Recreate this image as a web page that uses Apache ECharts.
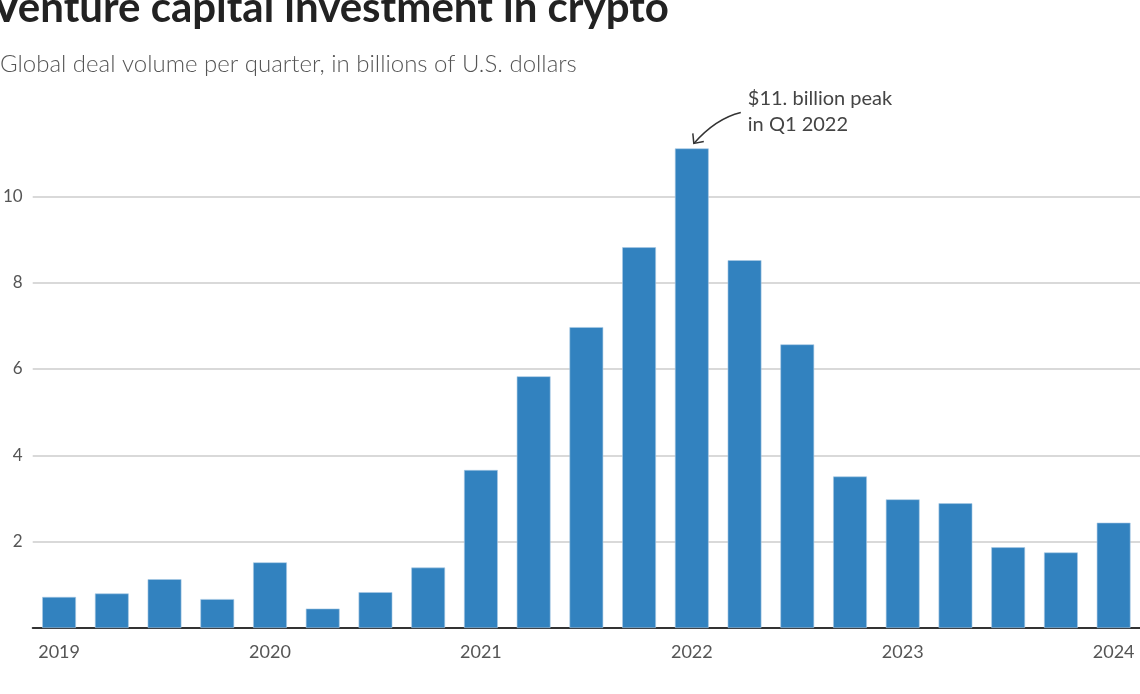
<!DOCTYPE html>
<html>
<head>
<meta charset="utf-8">
<script src="https://cdn.jsdelivr.net/npm/echarts@6/dist/echarts.min.js"></script>
<style>
  html, body { margin: 0; padding: 0; background: #fff; }
  #chart { width: 1140px; height: 694px; }
</style>
</head>
<body>
<div id="chart"></div>
<script>
// ---- data ----
const titleText = "Venture capital investment in crypto";
const subtitleText = "Global deal volume per quarter, in billions of U.S. dollars";
const quarters = [
  "Q1 2019","Q2 2019","Q3 2019","Q4 2019",
  "Q1 2020","Q2 2020","Q3 2020","Q4 2020",
  "Q1 2021","Q2 2021","Q3 2021","Q4 2021",
  "Q1 2022","Q2 2022","Q3 2022","Q4 2022",
  "Q1 2023","Q2 2023","Q3 2023","Q4 2023",
  "Q1 2024"
];
const dealVolume = [
  0.72, 0.80, 1.13, 0.67,
  1.52, 0.45, 0.83, 1.40,
  3.66, 5.83, 6.97, 8.82,
  11.11, 8.52, 6.57, 3.51,
  2.98, 2.89, 1.87, 1.75,
  2.44
];
const yTicks = [2, 4, 6, 8, 10];
const annotationLines = ["$11. billion peak", "in Q1 2022"];
const annotationIndex = 12;

const FONT = "Lato, 'Noto Sans', sans-serif";
const chart = echarts.init(document.getElementById('chart'), null, { renderer: 'canvas' });

chart.setOption({
  animation: false,
  backgroundColor: '#fff',
  title: [
    {
      text: titleText,
      left: -8, top: -13, padding: 0,
      textStyle: { fontFamily: FONT, fontSize: 42, fontWeight: 'bold', color: '#222' }
    },
    {
      text: subtitleText,
      left: 0, top: 52, padding: 0,
      textStyle: { fontFamily: FONT, fontSize: 24, fontWeight: 300, color: '#555' }
    }
  ],
  grid: { left: 30, right: -1, top: 110, bottom: 66, containLabel: false },
  xAxis: {
    type: 'category',
    data: quarters,
    axisTick: { show: false },
    axisLine: { show: true, lineStyle: { color: '#333', width: 2 } },
    axisLabel: {
      interval: 3,
      margin: 15,
      fontFamily: FONT, fontSize: 18, color: '#555',
      formatter: v => v.split(' ')[1]
    }
  },
  yAxis: {
    type: 'value',
    min: 0, max: 12, interval: 2,
    axisLine: { show: false },
    axisTick: { show: false },
    splitLine: { show: true, showMinLine: false, showMaxLine: false, lineStyle: { color: '#cccccc', width: 1.5 } },
    axisLabel: {
      margin: 10,
      fontFamily: FONT, fontSize: 17, color: '#555',
      showMinLabel: false, showMaxLabel: false,
      formatter: v => (yTicks.indexOf(v) >= 0 ? String(v) : '')
    }
  },
  series: [{
    type: 'bar',
    data: dealVolume,
    barWidth: '64%',
    itemStyle: { color: '#3282bf', borderColor: '#a9c9e4', borderWidth: 0.6 }
  }]
});

// annotation anchored to the Q1 2022 bar
const p = chart.convertToPixel({ seriesIndex: 0 }, [annotationIndex, dealVolume[annotationIndex]]);
const bx = p[0], by = p[1];
const ax = bx + 2, ay = by - 5;       // arrow tip
const sx = bx + 49, sy = by - 36;     // arrow start
chart.setOption({
  graphic: [
    {
      type: 'text', x: bx + 56, y: by - 50,
      style: { text: annotationLines[0], fontFamily: FONT, fontSize: 20, fill: '#444', verticalAlign: 'middle', align: 'left' }
    },
    {
      type: 'text', x: bx + 56, y: by - 24,
      style: { text: annotationLines[1], fontFamily: FONT, fontSize: 20, fill: '#444', verticalAlign: 'middle', align: 'left' }
    },
    {
      type: 'bezierCurve',
      shape: { x1: sx, y1: sy, cpx1: bx + 24, cpy1: by - 30, x2: ax, y2: ay },
      style: { stroke: '#333', lineWidth: 1.5, fill: null }
    },
    {
      type: 'polyline',
      shape: { points: [[ax - 1, ay - 10], [ax, ay], [ax + 10, ay - 2]] },
      style: { stroke: '#333', lineWidth: 1.5, fill: null }
    }
  ]
});
</script>
</body>
</html>
